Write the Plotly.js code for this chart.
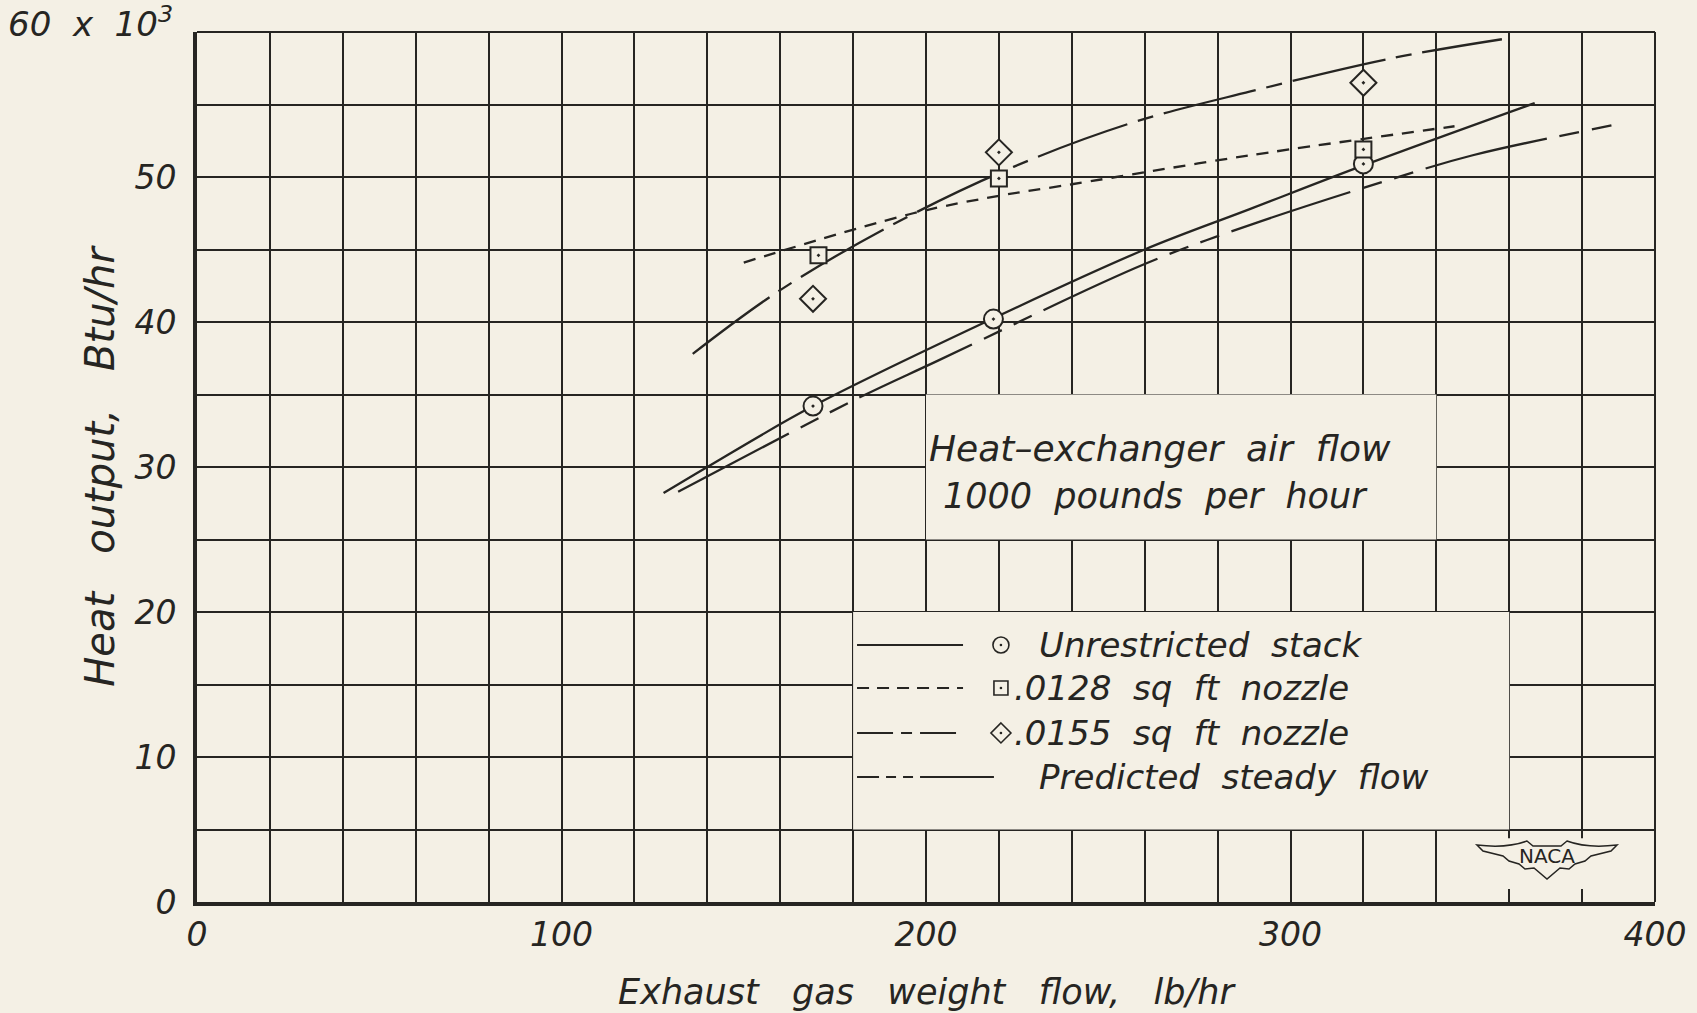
<!DOCTYPE html>
<html>
<head>
<meta charset="utf-8">
<script src="https://cdn.plot.ly/plotly-3.0.1.min.js"></script>
<style>
  html, body { margin: 0; padding: 0; background: #f4f0e5; }
  #chart { width: 1697px; height: 1013px; }
</style>
</head>
<body>
<div id="chart"></div>
<script>
// ---- Data ----
// Measured points (exhaust gas weight flow, lb/hr  vs  heat output, 1000 Btu/hr)
const unrestrictedX = [169, 218.5, 320];
const unrestrictedY = [34.2, 40.2, 50.9];
const nozzle0128X = [170.5, 220, 320];
const nozzle0128Y = [44.6, 49.9, 51.9];
const nozzle0155X = [169, 220, 320];
const nozzle0155Y = [41.6, 51.7, 56.5];

// Faired curves
const unrestrictedCurveX = [128, 140, 169, 218, 260, 289, 320, 367];
const unrestrictedCurveY = [28.2, 30.0, 34.2, 40.2, 45.0, 47.8, 50.8, 55.1];
const nozzle0128CurveX = [150, 196.5, 220, 240, 289, 345];
const nozzle0128CurveY = [44.1, 47.5, 48.7, 49.5, 51.5, 53.5];
const nozzle0155CurveX = [136, 160, 193, 224, 256, 289, 328, 358];
const nozzle0155CurveY = [37.8, 42.2, 47.0, 50.7, 53.7, 55.9, 58.2, 59.5];
const predictedCurveX = [132, 181, 203, 260, 289, 327, 350, 389];
const predictedCurveY = [28.3, 34.7, 37.3, 44.0, 46.7, 49.8, 51.5, 53.6];

// Axis ticks
const xTickVals = [0, 100, 200, 300, 400];
const xTickText = ['0', '100', '200', '300', '400'];
const yTickVals = [0, 10, 20, 30, 40, 50];
const yTickText = ['0', '10', '20', '30', '40', '50'];
const yTopLabel = '60  x  10<sup>3</sup>';

// Legend labels
const legendNames = ['Unrestricted  stack', '.0128  sq  ft  nozzle', '.0155  sq  ft  nozzle', 'Predicted  steady  flow'];

// ---- Styles ----
const INK = '#262522';
const PAPER = '#f4f0e5';
const FONT = 'DejaVu Sans, sans-serif';
const DASH_0128 = '12px,9px';
const DASH_0155 = '95px,11px,16px,11px';
const DASH_PRED = '125px,13px,20px,13px,20px,13px';
const LEG_DASH = ['solid', '12px,8px', '36px,8px,11px,8px', '22px,7px,10px,7px,10px,7px,200px'];

const lineW = 2.3;

const traces = [
  { x: unrestrictedCurveX, y: unrestrictedCurveY, mode: 'lines', name: legendNames[0],
    line: { color: INK, width: lineW, shape: 'spline', smoothing: 1 }, showlegend: false },
  { x: nozzle0128CurveX, y: nozzle0128CurveY, mode: 'lines', name: legendNames[1],
    line: { color: INK, width: lineW, dash: DASH_0128, shape: 'spline', smoothing: 1 }, showlegend: false },
  { x: nozzle0155CurveX, y: nozzle0155CurveY, mode: 'lines', name: legendNames[2],
    line: { color: INK, width: lineW, dash: DASH_0155, shape: 'spline', smoothing: 1 }, showlegend: false },
  { x: predictedCurveX, y: predictedCurveY, mode: 'lines', name: legendNames[3],
    line: { color: INK, width: lineW, dash: DASH_PRED, shape: 'spline', smoothing: 1 }, showlegend: false },
  { x: unrestrictedX, y: unrestrictedY, mode: 'markers', name: legendNames[0], showlegend: false,
    marker: { symbol: 'circle-dot', size: 19, color: PAPER, line: { color: INK, width: 2 } } },
  { x: nozzle0128X, y: nozzle0128Y, mode: 'markers', name: legendNames[1], showlegend: false,
    marker: { symbol: 'square-dot', size: 16, color: PAPER, line: { color: INK, width: 2 } } },
  { x: nozzle0155X, y: nozzle0155Y, mode: 'markers', name: legendNames[2], showlegend: false,
    marker: { symbol: 'diamond-dot', size: 20, color: PAPER, line: { color: INK, width: 2 } } }
];

// ---- Hand-drawn legend (line sample, symbol, text) in paper coordinates ----
const rowY = [0.2954, 0.246, 0.1943, 0.1437];
const sampleX0 = 0.4527, sampleX1 = 0.5254, sampleX1Long = 0.5466;
const symX = 0.5514;
const shapes = [];
const annotations = [];

// blank (un-gridded) regions of the drawing paper
const blanks = [
  { x0: 180, x1: 360, y0: 5, y1: 20 },
  { x0: 200, x1: 340, y0: 25, y1: 35 },
  { x0: 348, x1: 393, y0: 0.9, y1: 4.4 }
];
blanks.forEach(b => shapes.push({ type: 'rect', xref: 'x', yref: 'y', x0: b.x0, x1: b.x1, y0: b.y0, y1: b.y1,
  fillcolor: PAPER, line: { width: 0 }, layer: 'between' }));

// top and right border of the grid
shapes.push({ type: 'line', xref: 'paper', yref: 'paper', x0: 0, x1: 1, y0: 1, y1: 1, line: { color: INK, width: 2 } });
shapes.push({ type: 'line', xref: 'paper', yref: 'paper', x0: 1, x1: 1, y0: 0, y1: 1, line: { color: INK, width: 2 } });

LEG_DASH.forEach((d, i) => {
  shapes.push({ type: 'line', xref: 'paper', yref: 'paper', x0: sampleX0, x1: i === 3 ? sampleX1Long : sampleX1,
    y0: rowY[i], y1: rowY[i], line: { color: INK, width: 2, dash: d } });
});
// legend symbols
const symCommon = { xref: 'paper', yref: 'paper', xsizemode: 'pixel', ysizemode: 'pixel', xanchor: symX, line: { color: INK, width: 1.6 } };
shapes.push(Object.assign({ type: 'circle', yanchor: rowY[0], x0: -8, x1: 8, y0: -8, y1: 8 }, symCommon));
shapes.push(Object.assign({ type: 'rect', yanchor: rowY[1], x0: -7, x1: 7, y0: -7, y1: 7 }, symCommon));
shapes.push(Object.assign({ type: 'path', yanchor: rowY[2], path: 'M0,10 L10,0 L0,-10 L-10,0 Z' }, symCommon));
[0, 1, 2].forEach(i => shapes.push({ type: 'circle', xref: 'paper', yref: 'paper', xsizemode: 'pixel', ysizemode: 'pixel',
  xanchor: symX, yanchor: rowY[i], x0: -1.3, x1: 1.3, y0: -1.3, y1: 1.3, fillcolor: INK, line: { width: 0 } }));

const textX = [0.5761, 0.559, 0.559, 0.5761];
legendNames.forEach((n, i) => annotations.push({ xref: 'paper', yref: 'paper', x: textX[i], y: rowY[i],
  xanchor: 'left', yanchor: 'middle', showarrow: false, text: n,
  font: { family: FONT, size: 34, style: 'italic', color: INK } }));

// condition note
annotations.push({ xref: 'paper', yref: 'paper', x: (927 - 197) / 1458, y: (902 - 449) / 870, xanchor: 'left', yanchor: 'middle',
  showarrow: false, text: 'Heat\u2013exchanger  air  flow', font: { family: FONT, size: 36, style: 'italic', color: INK } });
annotations.push({ xref: 'paper', yref: 'paper', x: (941 - 197) / 1458, y: (902 - 496) / 870, xanchor: 'left', yanchor: 'middle',
  showarrow: false, text: '1000  pounds  per  hour', font: { family: FONT, size: 35, style: 'italic', color: INK } });

// top y-axis label with the scale factor
annotations.push({ xref: 'paper', yref: 'paper', x: (175 - 197) / 1458, y: (902 - 22) / 870, xanchor: 'right', yanchor: 'middle',
  showarrow: false, text: yTopLabel, font: { family: FONT, size: 34, style: 'italic', color: INK } });

// NACA wing emblem
const nacaX = (1547 - 197) / 1458, nacaY = (902 - 858) / 870;
shapes.push({ type: 'path', xref: 'paper', yref: 'paper', xsizemode: 'pixel', ysizemode: 'pixel', xanchor: nacaX, yanchor: nacaY,
  path: 'M-70,13 C-45,10 -28,14 -20,17 L-14,12 L14,12 L20,17 C28,14 45,10 70,13 L64,7 L44,2 L38,-3 L28,-6 L22,-11 L13,-10 L0,-21 L-13,-10 L-22,-11 L-28,-6 L-38,-3 L-44,2 L-64,7 Z',
  line: { color: INK, width: 1.5 } });
annotations.push({ xref: 'paper', yref: 'paper', x: nacaX, y: nacaY, xanchor: 'center', yanchor: 'middle', yshift: 2,
  showarrow: false, text: 'NACA', font: { family: 'DejaVu Sans, sans-serif', size: 20, color: INK } });

const axisFont = { family: FONT, size: 33, style: 'italic', color: INK };

const layout = {
  width: 1697, height: 1013,
  margin: { l: 197, r: 42, t: 32, b: 111 },
  paper_bgcolor: PAPER, plot_bgcolor: PAPER,
  showlegend: false,
  xaxis: {
    range: [0, 400], tickvals: xTickVals, ticktext: xTickText,
    showgrid: true, gridcolor: INK, gridwidth: 2,
    minor: { dtick: 20, showgrid: true, gridcolor: INK, gridwidth: 2, ticks: '' },
    showline: true, linecolor: INK, linewidth: 4, zeroline: false, ticks: '',
    tickfont: axisFont, ticklabelstandoff: 0,
    title: { text: 'Exhaust   gas   weight   flow,   lb/hr', font: { family: FONT, size: 35, style: 'italic', color: INK }, standoff: 28 }
  },
  yaxis: {
    range: [0, 60], tickvals: yTickVals, ticktext: yTickText,
    showgrid: true, gridcolor: INK, gridwidth: 2,
    minor: { dtick: 5, showgrid: true, gridcolor: INK, gridwidth: 2, ticks: '' },
    showline: true, linecolor: INK, linewidth: 4, zeroline: false, ticks: '',
    tickfont: axisFont, ticklabelstandoff: 10,
    title: { text: 'Heat   output,   Btu/hr', font: { family: FONT, size: 40, style: 'italic', color: INK }, standoff: 8 }
  },
  shapes: shapes,
  annotations: annotations
};

Plotly.newPlot('chart', traces, layout, { displayModeBar: false, staticPlot: true });
</script>
</body>
</html>
